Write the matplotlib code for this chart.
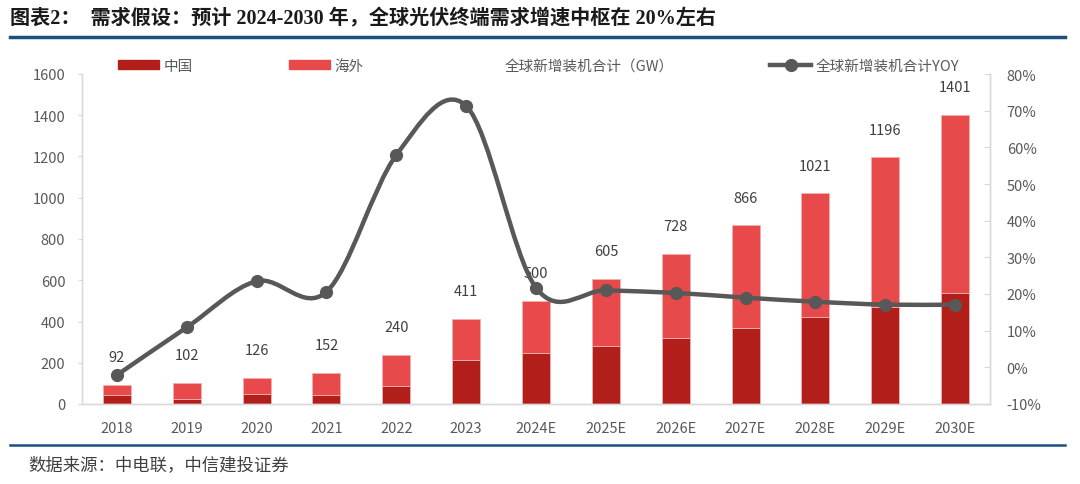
import matplotlib
matplotlib.use("Agg")
import matplotlib.pyplot as plt
from matplotlib.lines import Line2D
from matplotlib.patches import Patch, PathPatch
from matplotlib.path import Path
import numpy as np

plt.rcParams['font.family'] = ['Noto Sans CJK SC', 'DejaVu Sans']

years = ['2018', '2019', '2020', '2021', '2022', '2023', '2024E',
         '2025E', '2026E', '2027E', '2028E', '2029E', '2030E']
china = [42, 26, 47, 45, 85, 213, 245, 282, 322, 370, 420, 470, 540]
total = [92, 102, 126, 152, 240, 411, 500, 605, 728, 866, 1021, 1196, 1401]
overseas = [t - c for t, c in zip(total, china)]
yoy = [-2.1, 10.9, 23.5, 20.6, 57.9, 71.3, 21.7, 21.0, 20.3, 19.0, 17.9, 17.1, 17.1]

c_china = '#B21F1A'
c_over = '#E8494A'
c_line = '#585858'
c_text = '#595959'
c_axis = '#D9D9D9'

fig = plt.figure(figsize=[10.8, 4.85], dpi=100)
ax = fig.add_axes([82 / 1080, 1 - 405 / 485, (990 - 82) / 1080, 330 / 485])
ax2 = ax.twinx()

x = np.arange(len(years))
w = 0.40
ax.bar(x, china, w, color=c_china, edgecolor='#F0B0B0', linewidth=0.6, zorder=2)
ax.bar(x, overseas, w, bottom=china, color=c_over, edgecolor='#F0B0B0', linewidth=0.6, zorder=2)

for i in range(len(x)):
	ax.annotate(str(total[i]), (x[i], total[i]), xytext=(0, 20), textcoords='offset points',
		ha='center', va='center', fontsize=10.5, color='#404040')

ax.set_xlim(-0.5, len(x) - 0.5)
ax.set_ylim(0, 1600)
ax.set_yticks(range(0, 1601, 200))
ax.set_xticks(x)
ax.set_xticklabels(years)
ax.tick_params(axis='x', length=0, pad=12, labelsize=10.5, labelcolor=c_text)
ax.tick_params(axis='y', length=3, width=0.8, color=c_axis, pad=9, labelsize=10.5, labelcolor=c_text)

# smooth line like excel (catmull-rom bezier through the points)
pts = np.column_stack([x, yoy]).astype(float)
ext = np.vstack([pts[0], pts, pts[-1]])
verts = [pts[0]]
codes = [Path.MOVETO]
for i in range(1, len(ext) - 2):
	p0, p1, p2, p3 = ext[i - 1], ext[i], ext[i + 1], ext[i + 2]
	verts += [p1 + (p2 - p0) / 6, p2 - (p3 - p1) / 6, p2]
	codes += [Path.CURVE4] * 3
ax2.add_patch(PathPatch(Path(verts, codes), facecolor='none', edgecolor=c_line,
	linewidth=3.2, capstyle='round', zorder=3))
ax2.plot(x, yoy, linestyle='', marker='o', markersize=8.5, color=c_line, zorder=4)

ax2.set_ylim(-10, 80)
ax2.set_yticks(range(-10, 81, 10))
ax2.set_yticklabels([str(v) + '%' for v in range(-10, 81, 10)])
ax2.tick_params(axis='y', direction='in', length=4, width=0.8, color=c_axis, pad=12,
	labelsize=10.5, labelcolor=c_text)

for a in (ax, ax2):
	a.spines['top'].set_visible(False)
	for s in ('left', 'right', 'bottom'):
		a.spines[s].set_color(c_axis)
		a.spines[s].set_linewidth(1.0)

handles = [Patch(color=c_china), Patch(color=c_over), Patch(color='none'),
	Line2D([], [], color=c_line, linewidth=3.2, marker='o', markersize=8.5)]
labels = ['中国', '海外', '全球新增装机合计（GW）', '全球新增装机合计YOY']
fig.legend(handles, labels, loc='center left', bbox_to_anchor=(105 / 1080, 1 - 67 / 485),
	ncol=4, frameon=False, fontsize=10.5, handlelength=2.8, handleheight=0.6,
	handletextpad=0.3, columnspacing=6.6, labelcolor=c_text)

fig.text(10 / 1080, 1 - 19 / 485, '图表2：  需求假设：预计 2024-2030 年，全球光伏终端需求增速中枢在 20%左右',
	family=['Liberation Serif', 'Noto Sans CJK SC'], fontweight='bold', fontsize=14.5,
	color='#1A1A1A', va='center', ha='left')
fig.add_artist(Line2D([10 / 1080, 1065 / 1080], [1 - 38 / 485, 1 - 38 / 485],
	color='#1B4F80', linewidth=2.5, transform=fig.transFigure))
fig.add_artist(Line2D([10 / 1080, 1065 / 1080], [1 - 446 / 485, 1 - 446 / 485],
	color='#1B4F80', linewidth=1.8, transform=fig.transFigure))
fig.text(28 / 1080, 1 - 465 / 485, '数据来源：中电联，中信建投证券', fontsize=12.5,
	color='#404040', style='italic', va='center', ha='left')

plt.savefig('out.png', dpi=100)
